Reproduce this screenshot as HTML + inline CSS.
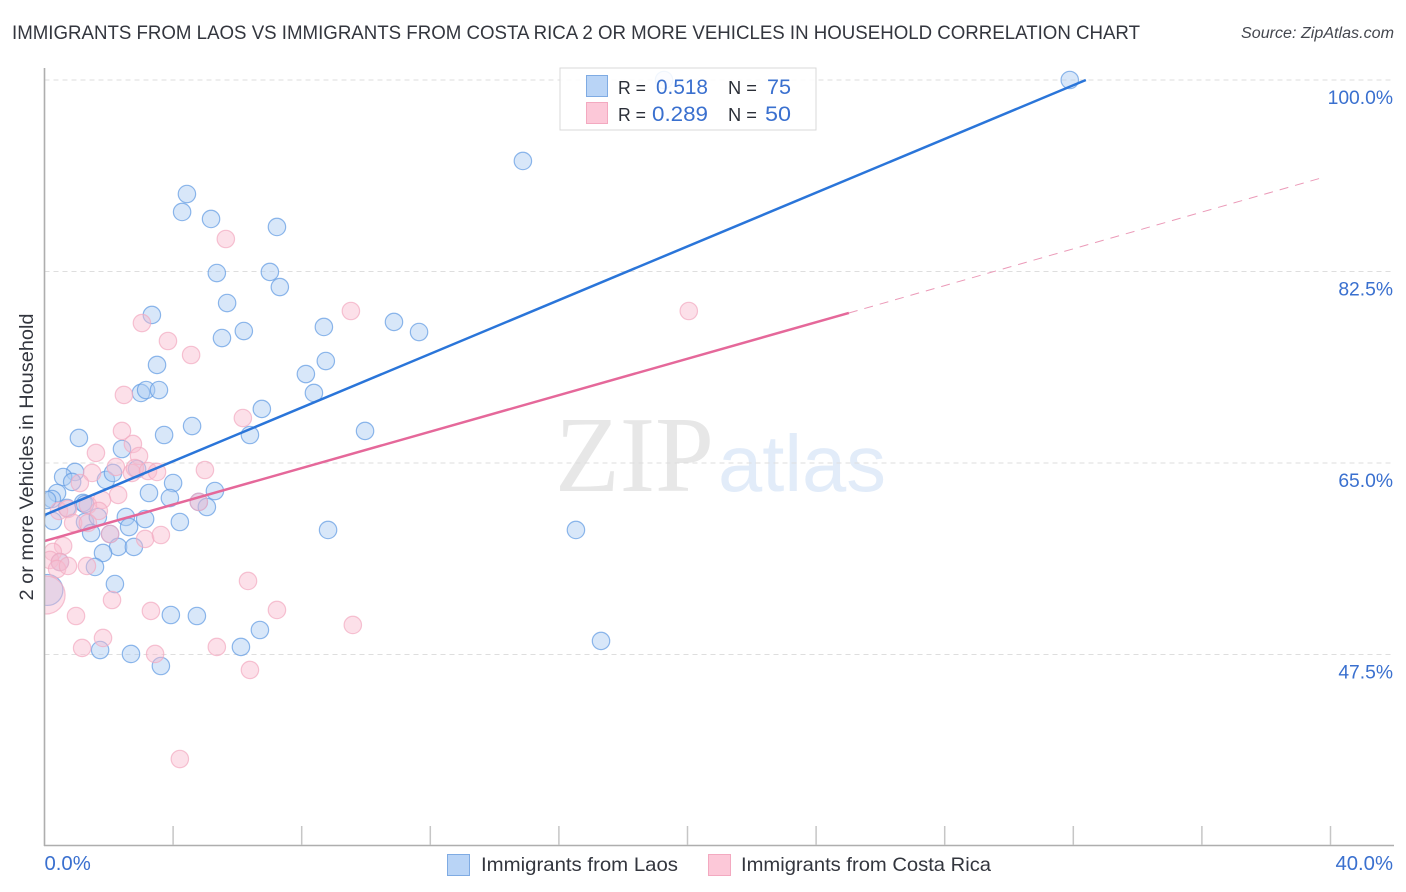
<!DOCTYPE html>
<html lang="en">
<head>
<meta charset="utf-8">
<title>Immigrants from Laos vs Immigrants from Costa Rica correlation chart</title>
<style>
html,body{margin:0;padding:0;background:#fff;width:1406px;height:892px;overflow:hidden}
svg{display:block;font-family:"Liberation Sans",sans-serif}
</style>
</head>
<body>
<svg id="chart" width="1406" height="892" viewBox="0 0 1406 892" xmlns="http://www.w3.org/2000/svg">
  <defs><clipPath id="plot-clip"><rect x="44.5" y="60" width="1350" height="785"/></clipPath></defs>
  <rect x="0" y="0" width="1406" height="892" fill="#fff"/>
  <text x="12" y="39" font-size="19.5" fill="#33363e" textLength="1128" lengthAdjust="spacingAndGlyphs">IMMIGRANTS FROM LAOS VS IMMIGRANTS FROM COSTA RICA 2 OR MORE VEHICLES IN HOUSEHOLD CORRELATION CHART</text>
  <text x="1241" y="38" font-size="15.5" font-style="italic" fill="#44474f" textLength="153" lengthAdjust="spacingAndGlyphs">Source: ZipAtlas.com</text>
  <text transform="translate(33,457) rotate(-90)" font-size="19" fill="#33363e" text-anchor="middle" textLength="287" lengthAdjust="spacingAndGlyphs">2 or more Vehicles in Household</text>
  <text x="555" y="491" font-family="'Liberation Serif',serif" font-size="108" fill="#e7e7e7" textLength="159" lengthAdjust="spacingAndGlyphs">ZIP</text>
  <text x="718" y="491" font-family="'Liberation Sans',sans-serif" font-size="80" fill="#e2ecf9" textLength="168" lengthAdjust="spacingAndGlyphs">atlas</text>
  <g id="grid"></g>
  <g id="points" clip-path="url(#plot-clip)"></g>
  <g id="trends"></g>
  <g id="axes"></g>
  <g>
    <rect x="560" y="68" width="256" height="62" fill="#fff" fill-opacity="0.88" stroke="#d9d9d9" stroke-width="1"/>
    <rect x="586.5" y="75.5" width="21" height="21" fill="#b9d4f6" stroke="#7fabe3"/>
    <rect x="586.5" y="102.5" width="21" height="21" fill="#fcc8d8" stroke="#f3a9c0"/>
    <text x="618" y="94" font-size="18.5" fill="#2b2f38" textLength="28" lengthAdjust="spacingAndGlyphs">R =</text>
    <text x="656" y="94" font-size="21" fill="#3a70cf" textLength="52" lengthAdjust="spacingAndGlyphs">0.518</text>
    <text x="728" y="94" font-size="18.5" fill="#2b2f38" textLength="29" lengthAdjust="spacingAndGlyphs">N =</text>
    <text x="767" y="94" font-size="21" fill="#3a70cf" textLength="24" lengthAdjust="spacingAndGlyphs">75</text>
    <text x="618" y="121" font-size="18.5" fill="#2b2f38" textLength="28" lengthAdjust="spacingAndGlyphs">R =</text>
    <text x="652" y="121" font-size="21" fill="#3a70cf" textLength="56" lengthAdjust="spacingAndGlyphs">0.289</text>
    <text x="728" y="121" font-size="18.5" fill="#2b2f38" textLength="29" lengthAdjust="spacingAndGlyphs">N =</text>
    <text x="765" y="121" font-size="21" fill="#3a70cf" textLength="26" lengthAdjust="spacingAndGlyphs">50</text>
  </g>
  <g>
    <rect x="447.5" y="854.5" width="22" height="21" fill="#b9d4f6" stroke="#7fabe3"/>
    <text x="481" y="871" font-size="19.5" fill="#33363e" textLength="197" lengthAdjust="spacingAndGlyphs">Immigrants from Laos</text>
    <rect x="708.5" y="854.5" width="22" height="21" fill="#fcc8d8" stroke="#f3a9c0"/>
    <text x="741" y="871" font-size="19.5" fill="#33363e" textLength="250" lengthAdjust="spacingAndGlyphs">Immigrants from Costa Rica</text>
  </g>
</svg>
<script>
const laosX = [1.07,3.72,4.59,6.39,2.41,0.95,0.58,0.86,1.91,2.13,2.88,4.00,0.39,0.23,3.25,3.90,5.30,4.80,5.05,1.20,0.70,0.26,1.26,1.66,2.53,3.13,2.63,4.21,1.45,2.04,2.29,2.78,1.82,0.48,1.57,2.19,0.09,3.93,4.74,6.70,6.11,1.73,2.69,3.62,31.89,14.88,4.43,4.28,5.18,7.23,5.36,7.01,7.32,5.68,3.34,6.20,5.52,8.69,10.87,11.65,3.50,8.75,8.13,3.00,3.16,3.56,8.38,6.76,9.97,8.82,16.53,17.31,19.27,0.08,1.26];
const laosY = [67.29,67.56,68.38,67.56,66.28,64.18,63.72,63.27,63.45,64.09,64.45,63.17,62.26,61.71,62.26,61.80,62.44,61.44,60.98,61.35,60.89,59.70,59.61,60.07,60.07,59.88,59.15,59.61,58.60,58.51,57.33,57.33,56.78,55.95,55.50,53.94,53.40,51.11,51.02,49.74,48.19,47.91,47.55,46.45,100.00,92.60,89.58,87.94,87.30,86.57,82.36,82.46,81.08,79.62,78.53,77.06,76.42,77.43,77.89,76.97,73.96,74.32,73.13,71.40,71.67,71.67,71.40,69.94,67.93,58.88,58.88,48.74,100.00,61.62,61.25];
const costaX = [2.41,1.60,2.75,2.94,6.17,4.99,2.22,1.48,1.10,2.72,2.81,3.22,3.50,2.29,1.79,1.35,1.69,4.80,0.45,0.73,0.89,1.35,2.04,3.13,3.62,0.58,0.26,0.17,0.48,0.39,0.73,1.32,2.10,0.05,0.98,3.31,6.33,7.23,1.82,1.17,3.44,5.36,6.39,5.64,9.53,20.04,3.03,3.84,4.56,2.47,4.21,9.59];
const costaY = [67.93,65.92,66.74,65.64,69.11,64.36,64.64,64.09,63.17,64.09,64.54,64.27,64.18,62.08,61.62,61.16,60.62,61.44,60.62,60.80,59.52,59.52,58.51,58.06,58.42,57.42,56.87,56.14,55.95,55.31,55.59,55.59,52.48,52.94,51.02,51.48,54.22,51.57,49.01,48.10,47.55,48.19,46.09,85.47,78.89,78.89,77.79,76.15,74.87,71.22,37.95,50.20];
const laosLargeIndex = [36];
const costaLargeIndex = [33];
const laosTrendX = [0, 32.39];
const laosTrendY = [60.25, 100];
const costaTrendX = [0, 25.02];
const costaTrendY = [57.87, 78.71];
const costaForecastX = [25.02, 39.82];
const costaForecastY = [78.71, 91.14];
const yTicks = [47.5, 65, 82.5, 100];
const yTickLabels = ['47.5%', '65.0%', '82.5%', '100.0%'];
const xTicks = [0, 4, 8, 12, 16, 20, 24, 28, 32, 36, 40];
const xEdgeTicks = [0, 40];
const xEdgeLabels = ['0.0%', '40.0%'];

const NS = 'http://www.w3.org/2000/svg';
function xScale(v){ return 44.5 + v * 32.15; }
function yScale(v){ return 80 + (100 - v) * 10.943; }
function make(tag, attrs, parent){
  const el = document.createElementNS(NS, tag);
  for (const k in attrs) el.setAttribute(k, attrs[k]);
  parent.appendChild(el);
  return el;
}
const grid = document.getElementById('grid');
const points = document.getElementById('points');
const trends = document.getElementById('trends');
const axes = document.getElementById('axes');

yTicks.forEach(function(t, i){
  const y = yScale(t);
  const line = make('line', {x1: 44.5, x2: 1394, y1: y, y2: y, stroke: '#dedede', 'stroke-width': 1, 'stroke-dasharray': '5 4'}, grid);
  
  
  const label = make('text', {x: 1393, y: y + 24, 'font-size': 19.3, fill: '#3a70cf', 'text-anchor': 'end'}, axes);
  label.textContent = yTickLabels[i];
  
  
});

function drawSeries(xs, ys, large, fill, stroke, name){
  xs.forEach(function(v, i){
    const isLarge = large.indexOf(i) >= 0;
    const c = make('circle', {cx: xScale(v), cy: yScale(ys[i]), r: isLarge ? (name === 'laos-point' ? 15.5 : 19) : 8.7, fill: fill, 'fill-opacity': 0.46, stroke: stroke, 'stroke-opacity': 0.7, 'stroke-width': 1.2}, points);
    
    
  });
}
drawSeries(laosX, laosY, laosLargeIndex, '#a9caf3', '#5f9ae2', 'laos-point');
drawSeries(costaX, costaY, costaLargeIndex, '#f9bccf', '#f2a9c1', 'costa-rica-point');

const laosLine = make('line', {x1: xScale(laosTrendX[0]), y1: yScale(laosTrendY[0]), x2: xScale(laosTrendX[1]), y2: yScale(laosTrendY[1]), stroke: '#2a75d9', 'stroke-width': 2.5}, trends);


const costaLine = make('line', {x1: xScale(costaTrendX[0]), y1: yScale(costaTrendY[0]), x2: xScale(costaTrendX[1]), y2: yScale(costaTrendY[1]), stroke: '#e5689a', 'stroke-width': 2.5}, trends);


const costaDash = make('line', {x1: xScale(costaForecastX[0]), y1: yScale(costaForecastY[0]), x2: xScale(costaForecastX[1]), y2: yScale(costaForecastY[1]), stroke: '#eb9ab8', 'stroke-width': 1, 'stroke-dasharray': '9 7'}, trends);



const yAxisLine = make('line', {x1: 44.5, x2: 44.5, y1: 68, y2: 846, stroke: '#aeaeae', 'stroke-width': 1.6}, axes);


const xAxisLine = make('line', {x1: 44, x2: 1394, y1: 845.5, y2: 845.5, stroke: '#aeaeae', 'stroke-width': 1.6}, axes);


xTicks.forEach(function(t){
  if (t === 0) return;
  const x = xScale(t);
  const tick = make('line', {x1: x, x2: x, y1: 826, y2: 845, stroke: '#c6c6c6', 'stroke-width': 1.5}, axes);
  
  
});
xEdgeTicks.forEach(function(t, i){
  const x = i === 0 ? xScale(t) : xScale(t) + 62.5;
  const label = make('text', {x: x, y: 870, 'font-size': 20.3, fill: '#3a70cf', 'text-anchor': i === 0 ? 'start' : 'end'}, axes);
  label.textContent = xEdgeLabels[i];
  
  
});
</script>
</body>
</html>
